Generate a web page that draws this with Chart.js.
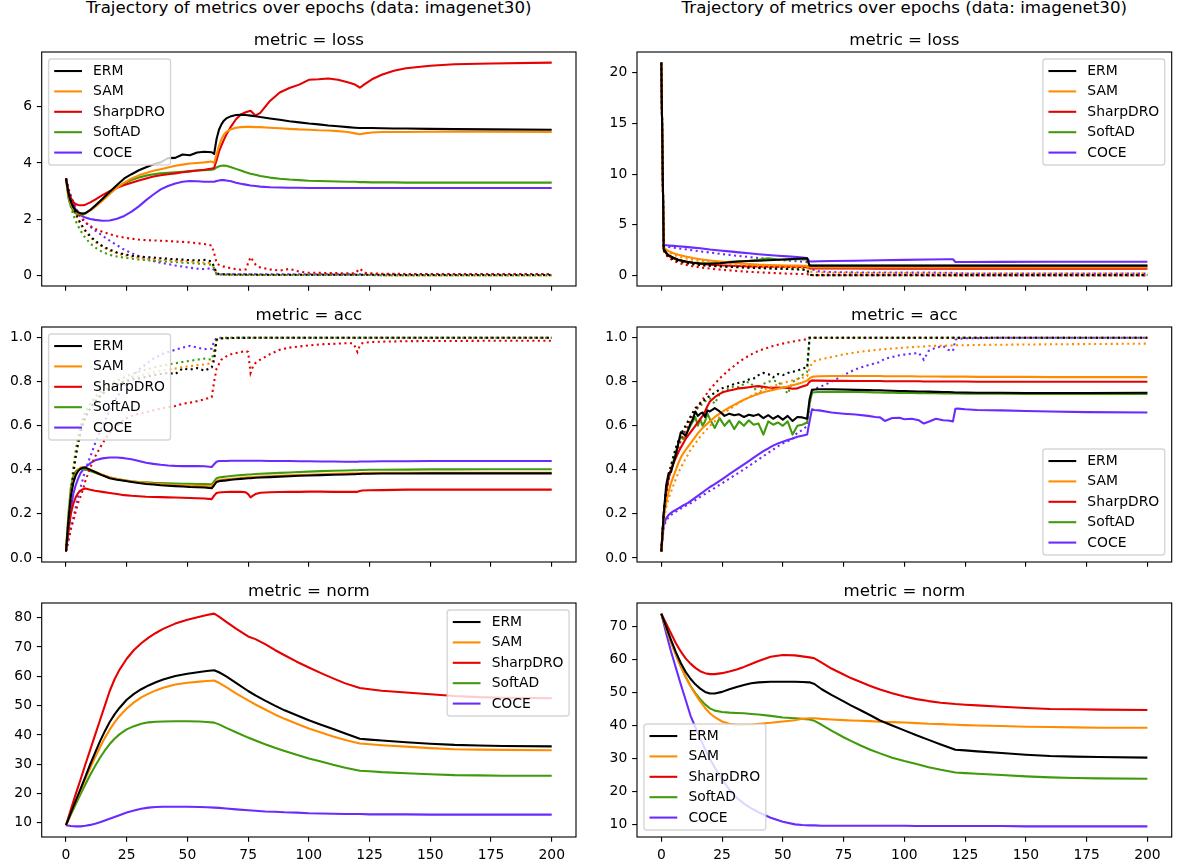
<!DOCTYPE html>
<html><head><meta charset="utf-8"><title>Trajectory of metrics over epochs</title>
<script src="https://cdn.jsdelivr.net/npm/chart.js@4.4.1/dist/chart.umd.min.js"></script>
<style>
html,body{margin:0;padding:0;background:#fff;}
#wrap{position:relative;width:1177px;height:865px;overflow:hidden;background:#fff;}
#wrap canvas{position:absolute;left:0;top:0;}
.sup{position:absolute;top:-2px;height:20px;line-height:20px;font-family:"DejaVu Sans",sans-serif;font-size:16.67px;color:#000;text-align:center;white-space:nowrap;}
</style></head><body>
<div id="wrap">
<div class="sup" style="left:41.7px;width:534.3px">Trajectory of metrics over epochs (data: imagenet30)</div>
<div class="sup" style="left:637px;width:534.7px">Trajectory of metrics over epochs (data: imagenet30)</div>
</div>
<script>
// ---------------- data ----------------
const METHODS = ['ERM','SAM','SharpDRO','SoftAD','COCE'];
const EPOCH_TICKS = [0,25,50,75,100,125,150,175,200];
const lossA_yticks = [0,2,4,6];
const lossB_yticks = [0,5,10,15,20];
const acc_yticks = [0,0.2,0.4,0.6,0.8,1.0];
const normA_yticks = [10,20,30,40,50,60,70,80];
const normB_yticks = [10,20,30,40,50,60,70];

// loss, left panel
const lossA_epochs = [0,1,2,3,4,5,6,7,8,10, 12,15,18,21,24,27,30,33,36,39, 42,45,48,51,54,57,60,61,62,63, 64,65,66,68,70,72,74,76,78,80, 84,88,92,96,100,104,108,112,116,119, 121,123,126,130,135,140,150,160,175,200];
const lossA_test_ERM = [3.45,2.92,2.62,2.43,2.31,2.25,2.21,2.2,2.22,2.33, 2.48,2.72,2.98,3.22,3.45,3.6,3.74,3.85,3.95,4.02, 4.17,4.18,4.3,4.27,4.37,4.4,4.38,4.32,4.85,5.18, 5.37,5.5,5.58,5.66,5.7,5.71,5.7,5.68,5.66,5.63, 5.58,5.53,5.48,5.44,5.4,5.37,5.33,5.3,5.27,5.25, 5.24,5.24,5.24,5.23,5.22,5.22,5.21,5.2,5.19,5.18];
const lossA_test_SAM = [3.45,2.86,2.56,2.39,2.28,2.22,2.2,2.2,2.22,2.31, 2.44,2.66,2.9,3.12,3.3,3.45,3.56,3.64,3.72,3.78, 3.84,3.9,3.94,3.98,4.0,4.02,4.05,4.0,4.3,4.6, 4.84,5.0,5.1,5.2,5.25,5.27,5.28,5.28,5.27,5.27, 5.25,5.23,5.21,5.19,5.18,5.16,5.15,5.13,5.1,5.05, 5.02,5.05,5.08,5.1,5.1,5.1,5.11,5.11,5.11,5.1];
const lossA_test_SharpDRO = [3.45,3.0,2.75,2.61,2.54,2.51,2.5,2.5,2.52,2.6, 2.7,2.86,3.0,3.12,3.22,3.3,3.38,3.45,3.52,3.56, 3.6,3.63,3.67,3.7,3.73,3.76,3.8,3.82,4.1,4.4, 4.62,4.82,5.0,5.3,5.55,5.72,5.8,5.85,5.68,5.78, 6.2,6.5,6.66,6.78,6.95,6.97,7.0,6.95,6.86,6.78, 6.67,6.8,6.97,7.13,7.27,7.36,7.45,7.5,7.53,7.56];
const lossA_test_SoftAD = [3.45,2.76,2.46,2.29,2.21,2.17,2.15,2.17,2.2,2.33, 2.48,2.72,2.95,3.13,3.28,3.39,3.48,3.55,3.6,3.63, 3.65,3.67,3.69,3.71,3.73,3.74,3.76,3.78,3.84,3.88, 3.9,3.91,3.9,3.85,3.79,3.73,3.67,3.62,3.58,3.54, 3.48,3.44,3.41,3.39,3.37,3.36,3.35,3.34,3.33,3.33, 3.32,3.32,3.31,3.31,3.31,3.3,3.3,3.3,3.3,3.3];
const lossA_test_COCE = [3.45,3.0,2.72,2.51,2.35,2.23,2.15,2.1,2.06,2.01, 1.98,1.95,1.96,2.02,2.12,2.27,2.46,2.68,2.88,3.06, 3.18,3.27,3.33,3.36,3.35,3.33,3.33,3.33,3.36,3.38, 3.39,3.39,3.38,3.35,3.3,3.26,3.23,3.2,3.18,3.16, 3.14,3.13,3.12,3.12,3.11,3.11,3.11,3.11,3.11,3.11, 3.11,3.11,3.11,3.11,3.11,3.11,3.11,3.11,3.11,3.11];
const lossA_train_ERM = [3.45,3.0,2.68,2.43,2.22,2.02,1.86,1.72,1.6,1.4, 1.24,1.05,0.92,0.82,0.76,0.71,0.68,0.66,0.64,0.62, 0.6,0.58,0.57,0.55,0.54,0.56,0.5,0.32,0.08,0.06, 0.05,0.05,0.05,0.04,0.04,0.04,0.04,0.04,0.04,0.03, 0.03,0.03,0.03,0.03,0.03,0.03,0.03,0.03,0.03,0.03, 0.03,0.03,0.03,0.03,0.03,0.02,0.02,0.02,0.02,0.02];
const lossA_train_SAM = [3.45,2.98,2.65,2.4,2.18,1.98,1.82,1.68,1.56,1.36, 1.2,1.02,0.88,0.79,0.72,0.67,0.63,0.6,0.58,0.56, 0.55,0.53,0.51,0.5,0.48,0.46,0.44,0.3,0.06,0.04, 0.03,0.03,0.03,0.03,0.02,0.02,0.02,0.02,0.02,0.02, 0.02,0.02,0.02,0.02,0.02,0.02,0.02,0.02,0.02,0.02, 0.02,0.02,0.02,0.01,0.01,0.01,0.01,0.01,0.01,0.01];
const lossA_train_SharpDRO = [3.45,3.05,2.78,2.55,2.36,2.2,2.08,1.97,1.88,1.76, 1.66,1.56,1.47,1.4,1.35,1.31,1.28,1.26,1.25,1.24, 1.23,1.21,1.2,1.18,1.15,1.12,1.07,0.8,0.45,0.38, 0.35,0.32,0.3,0.26,0.23,0.21,0.22,0.66,0.4,0.29, 0.22,0.18,0.24,0.14,0.1,0.1,0.09,0.09,0.08,0.08, 0.25,0.1,0.08,0.07,0.07,0.06,0.06,0.06,0.06,0.06];
const lossA_train_SoftAD = [3.45,2.85,2.45,2.16,1.94,1.76,1.6,1.46,1.34,1.14, 1.0,0.84,0.74,0.68,0.64,0.6,0.57,0.55,0.53,0.51, 0.5,0.48,0.46,0.45,0.43,0.41,0.39,0.26,0.05,0.04, 0.03,0.03,0.03,0.03,0.02,0.02,0.02,0.02,0.02,0.02, 0.02,0.02,0.02,0.02,0.02,0.02,0.02,0.02,0.02,0.02, 0.02,0.02,0.02,0.01,0.01,0.01,0.01,0.01,0.01,0.01];
const lossA_train_COCE = [3.45,3.1,2.85,2.62,2.42,2.25,2.12,2.0,1.9,1.74, 1.6,1.42,1.24,1.08,0.92,0.8,0.69,0.6,0.52,0.46, 0.41,0.36,0.32,0.28,0.25,0.23,0.27,0.2,0.05,0.05, 0.05,0.05,0.05,0.05,0.05,0.05,0.05,0.05,0.05,0.05, 0.05,0.05,0.05,0.05,0.05,0.05,0.05,0.05,0.05,0.05, 0.05,0.05,0.05,0.05,0.05,0.05,0.06,0.06,0.06,0.06];

// loss, right panel
const lossB_epochs = [0,1,2,3,5,7,10,13,16,20, 24,28,32,36,40,44,48,52,56,58, 60,61,62,65,70,80,90,100,110,118, 120,121,125,140,160,180,200];
const lossB_test_ERM = [21.0,2.6,2.25,2.0,1.75,1.55,1.38,1.25,1.18,1.15, 1.2,1.3,1.38,1.42,1.45,1.5,1.55,1.6,1.65,1.68, 1.7,0.97,0.97,0.97,0.97,0.97,0.97,0.97,0.97,0.97, 0.97,0.97,0.97,0.97,0.97,0.97,0.97];
const lossB_test_SAM = [21.0,2.8,2.55,2.4,2.2,2.05,1.88,1.72,1.6,1.48, 1.38,1.28,1.2,1.13,1.07,1.04,1.01,0.99,0.97,0.96, 0.95,0.82,0.8,0.8,0.8,0.8,0.8,0.8,0.8,0.8, 0.8,0.8,0.8,0.8,0.8,0.8,0.8];
const lossB_test_SharpDRO = [21.0,2.6,2.2,1.95,1.7,1.52,1.38,1.25,1.15,1.06, 1.0,0.96,0.93,0.9,0.88,0.87,0.86,0.85,0.84,0.83, 0.82,0.69,0.68,0.68,0.68,0.68,0.67,0.67,0.67,0.67, 0.67,0.67,0.67,0.67,0.67,0.67,0.67];
const lossB_test_SoftAD = [21.0,2.55,2.2,1.95,1.7,1.5,1.36,1.28,1.22,1.2, 1.25,1.35,1.4,1.45,1.55,1.7,1.58,1.55,1.62,1.58, 1.6,0.95,0.95,0.95,0.95,0.95,0.95,0.95,0.95,0.95, 0.95,0.95,0.95,0.95,0.95,0.95,0.95];
const lossB_test_COCE = [21.0,3.0,2.98,2.96,2.92,2.88,2.82,2.75,2.68,2.56, 2.47,2.38,2.28,2.19,2.1,2.02,1.94,1.88,1.82,1.78, 1.72,1.4,1.38,1.4,1.42,1.45,1.5,1.54,1.57,1.6, 1.6,1.33,1.33,1.34,1.35,1.35,1.35];
const lossB_train_ERM = [21.0,2.5,2.1,1.85,1.6,1.42,1.25,1.12,1.04,0.96, 0.9,0.85,0.8,0.76,0.73,0.7,0.67,0.64,0.6,0.58, 0.56,0.06,0.04,0.03,0.03,0.03,0.03,0.03,0.03,0.03, 0.03,0.03,0.03,0.03,0.03,0.03,0.03];
const lossB_train_SAM = [21.0,2.75,2.5,2.3,2.05,1.88,1.7,1.55,1.44,1.32, 1.22,1.13,1.06,1.0,0.95,0.9,0.86,0.82,0.78,0.76, 0.74,0.42,0.35,0.3,0.27,0.25,0.24,0.23,0.22,0.22, 0.22,0.2,0.2,0.2,0.19,0.19,0.19];
const lossB_train_SharpDRO = [21.0,2.5,2.05,1.75,1.45,1.25,1.05,0.9,0.8,0.68, 0.58,0.5,0.43,0.36,0.31,0.26,0.22,0.18,0.15,0.14, 0.13,0.03,0.02,0.02,0.02,0.02,0.02,0.02,0.01,0.01, 0.01,0.01,0.01,0.01,0.01,0.01,0.01];
const lossB_train_SoftAD = [21.0,2.45,2.05,1.8,1.55,1.38,1.22,1.1,1.02,0.95, 0.9,0.86,0.82,0.78,0.75,0.72,0.69,0.66,0.63,0.6, 0.58,0.06,0.04,0.03,0.03,0.03,0.03,0.03,0.03,0.03, 0.03,0.03,0.03,0.03,0.03,0.03,0.03];
const lossB_train_COCE = [21.0,2.95,2.88,2.82,2.75,2.68,2.58,2.48,2.38,2.26, 2.14,2.03,1.92,1.82,1.72,1.63,1.55,1.47,1.4,1.36, 1.32,1.05,0.6,0.4,0.33,0.3,0.29,0.28,0.28,0.27, 0.27,0.22,0.2,0.2,0.2,0.2,0.2];

// acc, left panel
const accA_epochs = [0,1,2,3,4,5,6,7,8,10, 12,15,18,21,24,27,30,33,36,39, 42,45,48,51,54,57,60,61,62,63, 64,66,68,70,72,74,75,76,77,78, 80,84,88,92,96,100,105,110,115,118, 119,120,121,122,125,130,140,150,160,175, 200];
const accA_test_ERM = [0.03,0.17,0.28,0.34,0.375,0.395,0.405,0.41,0.41,0.4, 0.39,0.375,0.362,0.355,0.35,0.345,0.34,0.336,0.333,0.33, 0.328,0.326,0.324,0.322,0.321,0.32,0.316,0.33,0.345,0.348, 0.35,0.352,0.355,0.357,0.359,0.361,0.362,0.362,0.363,0.364, 0.365,0.367,0.369,0.371,0.373,0.374,0.376,0.378,0.379,0.38, 0.38,0.381,0.381,0.382,0.382,0.383,0.383,0.384,0.384,0.384, 0.384];
const accA_test_SAM = [0.03,0.18,0.29,0.35,0.38,0.4,0.41,0.412,0.41,0.402, 0.392,0.378,0.366,0.358,0.352,0.347,0.343,0.34,0.337,0.335, 0.333,0.331,0.33,0.328,0.327,0.326,0.325,0.337,0.35,0.353, 0.355,0.357,0.359,0.361,0.363,0.365,0.366,0.366,0.367,0.368, 0.369,0.371,0.373,0.375,0.377,0.378,0.38,0.382,0.383,0.384, 0.384,0.384,0.385,0.385,0.386,0.386,0.387,0.387,0.387,0.387, 0.387];
const accA_test_SharpDRO = [0.03,0.12,0.2,0.245,0.275,0.295,0.305,0.312,0.315,0.31, 0.305,0.3,0.295,0.29,0.285,0.282,0.28,0.278,0.277,0.276, 0.275,0.274,0.273,0.272,0.271,0.27,0.267,0.283,0.295,0.297, 0.298,0.299,0.3,0.3,0.3,0.298,0.29,0.275,0.283,0.29, 0.296,0.298,0.299,0.3,0.3,0.301,0.301,0.3,0.3,0.3, 0.3,0.3,0.304,0.306,0.307,0.308,0.31,0.31,0.31,0.31, 0.31];
const accA_test_SoftAD = [0.03,0.2,0.32,0.37,0.392,0.402,0.405,0.405,0.402,0.395, 0.387,0.375,0.365,0.358,0.352,0.348,0.345,0.343,0.341,0.34, 0.339,0.338,0.337,0.337,0.336,0.335,0.334,0.348,0.362,0.365, 0.367,0.37,0.372,0.374,0.376,0.378,0.379,0.379,0.38,0.381, 0.382,0.384,0.386,0.388,0.39,0.392,0.394,0.396,0.397,0.398, 0.398,0.398,0.399,0.399,0.4,0.4,0.401,0.402,0.402,0.403, 0.403];
const accA_test_COCE = [0.03,0.12,0.22,0.29,0.33,0.36,0.385,0.4,0.412,0.43, 0.443,0.452,0.456,0.456,0.453,0.448,0.44,0.432,0.427,0.423, 0.42,0.418,0.417,0.417,0.417,0.416,0.413,0.425,0.437,0.44, 0.44,0.44,0.441,0.441,0.441,0.441,0.441,0.441,0.441,0.441, 0.441,0.44,0.44,0.44,0.439,0.439,0.438,0.438,0.437,0.437, 0.437,0.437,0.438,0.438,0.438,0.439,0.439,0.44,0.44,0.44, 0.44];
const accA_train_ERM = [0.03,0.15,0.28,0.38,0.46,0.52,0.57,0.61,0.64,0.68, 0.71,0.745,0.77,0.785,0.8,0.81,0.815,0.822,0.83,0.835, 0.84,0.835,0.86,0.855,0.862,0.85,0.865,0.9,0.99,0.995, 0.997,0.998,0.998,0.999,0.999,0.999,1.0,1.0,1.0,1.0, 1.0,1.0,1.0,1.0,1.0,1.0,1.0,1.0,1.0,1.0, 1.0,1.0,1.0,1.0,1.0,1.0,1.0,1.0,1.0,1.0, 1.0];
const accA_train_SAM = [0.03,0.15,0.28,0.38,0.46,0.52,0.57,0.61,0.64,0.68, 0.715,0.75,0.775,0.79,0.805,0.815,0.825,0.835,0.843,0.85, 0.855,0.86,0.866,0.87,0.875,0.878,0.885,0.91,0.99,0.995, 0.997,0.998,0.998,0.999,0.999,0.999,1.0,1.0,1.0,1.0, 1.0,1.0,1.0,1.0,1.0,1.0,1.0,1.0,1.0,1.0, 1.0,1.0,1.0,1.0,1.0,1.0,1.0,1.0,1.0,1.0, 1.0];
const accA_train_SharpDRO = [0.03,0.08,0.13,0.17,0.21,0.25,0.28,0.31,0.35,0.41, 0.46,0.52,0.57,0.6,0.63,0.645,0.655,0.662,0.67,0.678, 0.685,0.69,0.7,0.705,0.712,0.72,0.73,0.8,0.86,0.88, 0.9,0.915,0.925,0.93,0.935,0.94,0.935,0.84,0.87,0.885, 0.9,0.925,0.945,0.955,0.96,0.965,0.97,0.972,0.975,0.975, 0.96,0.935,0.965,0.975,0.98,0.982,0.984,0.985,0.985,0.986, 0.986];
const accA_train_SoftAD = [0.03,0.17,0.3,0.41,0.49,0.55,0.6,0.635,0.665,0.7, 0.73,0.765,0.79,0.805,0.82,0.835,0.845,0.855,0.865,0.872, 0.878,0.884,0.89,0.895,0.9,0.905,0.9,0.94,0.995,0.997, 0.998,0.999,0.999,1.0,1.0,1.0,1.0,1.0,1.0,1.0, 1.0,1.0,1.0,1.0,1.0,1.0,1.0,1.0,1.0,1.0, 1.0,1.0,1.0,1.0,1.0,1.0,1.0,1.0,1.0,1.0, 1.0];
const accA_train_COCE = [0.03,0.08,0.13,0.18,0.23,0.28,0.32,0.36,0.4,0.46, 0.52,0.6,0.67,0.73,0.78,0.82,0.855,0.88,0.905,0.922, 0.935,0.945,0.955,0.963,0.955,0.948,0.95,0.985,0.998,1.0, 1.0,1.0,1.0,1.0,1.0,1.0,1.0,1.0,1.0,1.0, 1.0,1.0,1.0,1.0,1.0,1.0,1.0,1.0,1.0,1.0, 1.0,1.0,1.0,1.0,1.0,1.0,1.0,1.0,1.0,1.0, 1.0];

// acc, right panel
const accB_epochs = [0,1,2,3,4,5,6,7,8,9, 10,11,12,13,14,15,16,17,18,19, 20,22,24,26,28,30,32,34,36,38, 40,42,44,46,48,50,52,54,56,58, 60,61,62,63,65,70,75,80,85,88, 90,92,95,98,100,103,106,108,110,113, 116,118,120,121,122,125,130,140,150,160, 175,200];
const accB_test_ERM = [0.03,0.2,0.33,0.385,0.39,0.43,0.47,0.52,0.57,0.565, 0.555,0.58,0.61,0.63,0.665,0.645,0.655,0.66,0.64,0.67, 0.665,0.68,0.665,0.645,0.655,0.648,0.652,0.64,0.65,0.645, 0.652,0.635,0.648,0.632,0.645,0.628,0.645,0.622,0.64,0.638, 0.632,0.72,0.763,0.765,0.766,0.766,0.765,0.763,0.762,0.761, 0.761,0.76,0.759,0.758,0.758,0.757,0.756,0.756,0.755,0.754, 0.753,0.753,0.752,0.751,0.751,0.751,0.75,0.75,0.749,0.749, 0.749,0.75];
const accB_test_SAM = [0.03,0.18,0.25,0.3,0.34,0.37,0.4,0.43,0.455,0.475, 0.49,0.505,0.52,0.535,0.55,0.565,0.578,0.59,0.6,0.61, 0.62,0.64,0.655,0.67,0.683,0.695,0.707,0.718,0.728,0.737, 0.745,0.752,0.758,0.763,0.768,0.773,0.778,0.784,0.79,0.797, 0.805,0.815,0.822,0.824,0.825,0.826,0.826,0.826,0.826,0.826, 0.826,0.825,0.825,0.825,0.825,0.825,0.824,0.824,0.824,0.824, 0.823,0.823,0.823,0.823,0.823,0.823,0.822,0.822,0.822,0.821, 0.821,0.821];
const accB_test_SharpDRO = [0.03,0.2,0.3,0.36,0.4,0.43,0.455,0.48,0.5,0.52, 0.54,0.555,0.57,0.585,0.6,0.615,0.63,0.645,0.665,0.69, 0.71,0.73,0.745,0.755,0.76,0.765,0.77,0.772,0.775,0.778, 0.78,0.777,0.774,0.772,0.774,0.773,0.772,0.768,0.77,0.778, 0.785,0.8,0.806,0.805,0.805,0.804,0.804,0.803,0.803,0.803, 0.803,0.802,0.802,0.802,0.802,0.802,0.802,0.801,0.801,0.801, 0.801,0.801,0.801,0.801,0.801,0.801,0.8,0.8,0.8,0.8, 0.8,0.8];
const accB_test_SoftAD = [0.03,0.2,0.3,0.37,0.4,0.44,0.48,0.52,0.55,0.54, 0.55,0.58,0.6,0.62,0.64,0.6,0.63,0.6,0.62,0.655, 0.63,0.59,0.635,0.6,0.625,0.585,0.62,0.6,0.625,0.605, 0.61,0.56,0.62,0.605,0.615,0.6,0.62,0.56,0.6,0.605, 0.615,0.7,0.75,0.752,0.753,0.754,0.754,0.753,0.752,0.751, 0.751,0.75,0.75,0.749,0.749,0.749,0.748,0.748,0.748,0.748, 0.747,0.747,0.747,0.747,0.747,0.746,0.746,0.746,0.745,0.745, 0.745,0.745];
const accB_test_COCE = [0.03,0.15,0.18,0.195,0.205,0.212,0.218,0.225,0.232,0.238, 0.244,0.25,0.258,0.266,0.274,0.282,0.29,0.298,0.306,0.314, 0.322,0.335,0.35,0.365,0.38,0.395,0.41,0.425,0.44,0.455, 0.47,0.485,0.497,0.51,0.52,0.528,0.535,0.542,0.55,0.555, 0.56,0.62,0.675,0.672,0.67,0.66,0.655,0.651,0.645,0.64, 0.638,0.622,0.635,0.636,0.63,0.632,0.625,0.61,0.618,0.632, 0.625,0.624,0.62,0.677,0.678,0.675,0.672,0.67,0.667,0.665, 0.662,0.66];
const accB_train_ERM = [0.03,0.2,0.3,0.37,0.42,0.46,0.5,0.53,0.56,0.58, 0.6,0.62,0.64,0.66,0.68,0.69,0.7,0.71,0.72,0.73, 0.735,0.75,0.765,0.775,0.78,0.79,0.795,0.8,0.81,0.815, 0.83,0.84,0.835,0.82,0.835,0.83,0.84,0.845,0.85,0.86, 0.865,1.0,1.0,1.0,1.0,1.0,1.0,1.0,1.0,1.0, 1.0,1.0,1.0,1.0,1.0,1.0,1.0,1.0,1.0,1.0, 1.0,1.0,1.0,1.0,1.0,1.0,1.0,1.0,1.0,1.0, 1.0,1.0];
const accB_train_SAM = [0.03,0.17,0.23,0.27,0.3,0.33,0.36,0.385,0.41,0.43, 0.45,0.47,0.49,0.505,0.52,0.535,0.55,0.563,0.575,0.587, 0.6,0.62,0.64,0.658,0.675,0.69,0.705,0.718,0.73,0.742, 0.753,0.763,0.772,0.78,0.787,0.793,0.8,0.806,0.812,0.818, 0.825,0.86,0.885,0.893,0.9,0.912,0.924,0.933,0.94,0.944, 0.946,0.948,0.951,0.953,0.955,0.957,0.959,0.96,0.962,0.963, 0.964,0.964,0.965,0.965,0.966,0.966,0.967,0.968,0.969,0.97, 0.971,0.973];
const accB_train_SharpDRO = [0.03,0.2,0.31,0.37,0.41,0.44,0.47,0.5,0.53,0.555, 0.58,0.6,0.625,0.645,0.665,0.685,0.705,0.72,0.735,0.75, 0.765,0.79,0.815,0.835,0.855,0.872,0.89,0.905,0.918,0.93, 0.94,0.948,0.955,0.962,0.968,0.973,0.978,0.982,0.986,0.99, 0.993,1.0,1.0,1.0,1.0,1.0,1.0,1.0,1.0,1.0, 1.0,1.0,1.0,1.0,1.0,1.0,1.0,1.0,1.0,1.0, 1.0,1.0,1.0,1.0,1.0,1.0,1.0,1.0,1.0,1.0, 1.0,1.0];
const accB_train_SoftAD = [0.03,0.2,0.3,0.37,0.42,0.46,0.5,0.53,0.56,0.58, 0.6,0.62,0.64,0.66,0.67,0.68,0.69,0.7,0.71,0.72, 0.725,0.7,0.745,0.76,0.77,0.78,0.775,0.79,0.8,0.78, 0.735,0.79,0.8,0.805,0.8,0.78,0.745,0.8,0.81,0.83, 0.845,1.0,1.0,1.0,1.0,1.0,1.0,1.0,1.0,1.0, 1.0,1.0,1.0,1.0,1.0,1.0,1.0,1.0,1.0,1.0, 1.0,1.0,1.0,1.0,1.0,1.0,1.0,1.0,1.0,1.0, 1.0,1.0];
const accB_train_COCE = [0.03,0.14,0.17,0.185,0.195,0.203,0.21,0.217,0.224,0.23, 0.236,0.242,0.248,0.255,0.262,0.27,0.277,0.284,0.291,0.298, 0.305,0.318,0.332,0.346,0.36,0.374,0.388,0.402,0.417,0.432, 0.447,0.462,0.477,0.492,0.507,0.52,0.53,0.54,0.57,0.58, 0.6,0.7,0.76,0.768,0.775,0.8,0.83,0.857,0.875,0.884, 0.89,0.905,0.912,0.92,0.923,0.928,0.93,0.9,0.94,0.955, 0.962,0.945,0.94,0.99,0.995,0.997,0.998,1.0,1.0,1.0, 1.0,1.0];

// norm, both panels
const norm_epochs = [0,2,4,6,8,10,12,14,16,18, 20,22,25,28,31,34,37,40,45,50, 55,58,61,63,66,70,75,78,82,86, 90,95,100,105,110,115,121,125,130,140, 150,160,170,180,200];
const normA_ERM = [9.2,13.4,17.5,21.6,25.8,30,34,37.8,41.3,44.4, 47,49.2,52,54,55.6,56.9,58,58.9,60.1,60.9, 61.5,61.8,62.1,61.4,60,57.8,55,53.5,51.7,50, 48.4,46.7,45,43.5,42,40.5,38.7,38.4,38.1,37.5, 37,36.6,36.4,36.2,36.1];
const normA_SAM = [9.2,13.2,17.2,21.1,25,28.8,32.4,35.8,39,41.8, 44.3,46.4,49,51.1,52.8,54.1,55.2,56.1,57.2,57.8, 58.2,58.4,58.6,57.8,56.3,54.2,51.8,50.4,48.7,47, 45.5,43.8,42.2,40.8,39.5,38.3,37.1,36.8,36.5,36, 35.5,35.1,35,34.9,34.8];
const normA_SharpDRO = [9.2,14.5,19.8,24.8,30,35,40,45,50,55, 59,62.2,66,69,71.3,73.2,74.8,76.2,78,79.3, 80.3,80.9,81.4,80.4,78.6,76.3,73.6,72.7,71,69, 67.2,65,63,61.1,59.3,57.6,56,55.6,55.1,54.5, 53.9,53.3,52.9,52.7,52.5];
const normA_SoftAD = [9.2,12.8,16.3,19.8,23.2,26.4,29.4,32.2,34.7,36.9, 38.7,40.2,41.9,43,43.8,44.3,44.5,44.6,44.7,44.7, 44.6,44.4,44.2,43.6,42.4,40.9,39.1,38.1,36.8,35.6, 34.5,33.2,32,30.9,29.8,28.8,27.8,27.6,27.3,26.9, 26.6,26.3,26.2,26.1,26.1];
const normA_COCE = [9.2,8.9,8.8,8.8,9.0,9.3,9.7,10.2,10.8,11.4, 12,12.6,13.5,14.2,14.8,15.2,15.4,15.5,15.5,15.5, 15.4,15.3,15.2,15.1,14.9,14.6,14.3,14.1,13.9,13.8, 13.6,13.5,13.3,13.2,13.1,13,13,12.9,12.9,12.9, 12.8,12.8,12.8,12.8,12.8];
const normB_ERM = [74,70,66,62.3,59,56.3,54.2,52.5,51.2,50.2, 49.7,49.7,50.2,51,51.7,52.3,52.8,53.1,53.3,53.3, 53.3,53.2,53.1,52.6,51,49.3,47.3,46.1,44.6,43.1, 41.5,40,38.5,37,35.6,34.2,32.6,32.4,32.1,31.6, 31.1,30.7,30.5,30.4,30.2];
const normB_SAM = [74,69.5,65.3,61.5,58,54.8,52,49.5,47.3,45.3, 43.7,42.5,41.2,40.5,40.2,40.2,40.3,40.5,40.8,41.2, 41.6,42,42.2,42.2,42,41.8,41.6,41.5,41.4,41.3, 41.1,41,40.9,40.7,40.5,40.4,40.2,40.1,40,39.8, 39.6,39.5,39.4,39.3,39.3];
const normB_SharpDRO = [74,71,68,65,62.5,60.4,58.8,57.5,56.5,55.9, 55.6,55.6,55.9,56.4,57,57.8,58.7,59.6,60.9,61.4, 61.3,61,60.7,60.4,59.1,57.3,55.5,54.4,53.2,52, 50.9,49.8,48.8,48,47.4,46.9,46.5,46.3,46.1,45.7, 45.3,45,44.9,44.8,44.7];
const normB_SoftAD = [74,69.5,65.3,61.5,58,54.8,52,49.8,48,46.4, 45.2,44.5,44.1,43.9,43.8,43.7,43.5,43.3,42.9,42.4, 42.2,42,41.8,41.4,40.2,38.4,36.4,35.3,33.9,32.6, 31.5,30.2,29.2,28.3,27.3,26.5,25.7,25.5,25.3,24.9, 24.5,24.2,24,23.9,23.8];
const normB_COCE = [74,68,62.5,57.5,52.5,47.8,43,39.5,36,32.8, 29.8,27.2,23.5,20.5,18,16.2,14.8,13.6,11.9,10.7, 9.9,9.7,9.6,9.6,9.5,9.5,9.5,9.5,9.5,9.5, 9.5,9.5,9.5,9.4,9.4,9.4,9.4,9.4,9.4,9.4, 9.3,9.3,9.3,9.3,9.3];

// ---------------- styling / layout ----------------
const COLORS = {ERM:'#000000', SAM:'#ff8c00', SharpDRO:'#e60000', SoftAD:'#3f9b0b', COCE:'#6a2bff'};
const PT = 100/72;
const FS = 10*PT;          // tick / legend font size
const TFS = 12*PT;         // title font size
const LW = 1.5*PT;         // line width
const CW = 1177, CH = 865;
const COLS = [[41.7,576],[637,1171.7]];
const ROWS = [[52,286],[327,562],[603,837]];
const YAXW = 40, XAXH = 26, TITLE_PB = 1.8, TITLE_H = TFS*1.2 + TITLE_PB;

Chart.defaults.font.family = '"DejaVu Sans", sans-serif';
Chart.defaults.font.size = FS;
Chart.defaults.color = '#000';

const framePlugin = {
  id:'frame',
  afterDatasetsDraw(chart){
    const {ctx, chartArea:a} = chart;
    ctx.save(); ctx.strokeStyle='#000'; ctx.lineWidth=0.8*PT;
    ctx.strokeRect(a.left, a.top, a.right-a.left, a.bottom-a.top);
    ctx.restore();
  }
};

function rr(ctx,x,y,w,h,r){
  ctx.beginPath();
  ctx.moveTo(x+r,y); ctx.lineTo(x+w-r,y); ctx.arcTo(x+w,y,x+w,y+r,r);
  ctx.lineTo(x+w,y+h-r); ctx.arcTo(x+w,y+h,x+w-r,y+h,r);
  ctx.lineTo(x+r,y+h); ctx.arcTo(x,y+h,x,y+h-r,r);
  ctx.lineTo(x,y+r); ctx.arcTo(x,y,x+r,y,r); ctx.closePath();
}

const mplLegend = {
  id:'mplLegend',
  afterDraw(chart, args, o){
    if(!o || !o.loc) return;
    const ctx = chart.ctx, a = chart.chartArea;
    ctx.save();
    ctx.font = FS + 'px "DejaVu Sans", sans-serif';
    const bp = 0.4*FS, hl = 2.0*FS, htp = 0.8*FS, ls = 0.5*FS, rh = 0.968*FS, pad = 0.5*FS;
    const tw = Math.max(...METHODS.map(s=>ctx.measureText(s).width));
    const w = 2*bp + hl + htp + tw;
    const h = 2*bp + METHODS.length*rh + (METHODS.length-1)*ls;
    const x = o.loc.endsWith('left') ? a.left + pad : a.right - pad - w;
    const y = o.loc.startsWith('upper') ? a.top + pad : a.bottom - pad - h;
    rr(ctx,x,y,w,h,0.2*FS);
    ctx.fillStyle='rgba(255,255,255,0.8)'; ctx.fill();
    ctx.lineWidth=PT; ctx.strokeStyle='rgba(204,204,204,0.8)'; ctx.stroke();
    METHODS.forEach((m,i)=>{
      const top = y + bp + i*(rh+ls);
      const hy = top + 0.47*FS;
      ctx.beginPath(); ctx.moveTo(x+bp, hy); ctx.lineTo(x+bp+hl, hy);
      ctx.strokeStyle = COLORS[m]; ctx.lineWidth = LW; ctx.lineCap='butt'; ctx.stroke();
      ctx.fillStyle='#000'; ctx.textAlign='left'; ctx.textBaseline='alphabetic';
      ctx.fillText(m, x+bp+hl+htp, top + 0.76*FS);
    });
    ctx.restore();
  }
};

const PANELS = [
  {col:0,row:0,title:'metric = loss',ep:lossA_epochs,
   test:[lossA_test_ERM,lossA_test_SAM,lossA_test_SharpDRO,lossA_test_SoftAD,lossA_test_COCE],
   train:[lossA_train_ERM,lossA_train_SAM,lossA_train_SharpDRO,lossA_train_SoftAD,lossA_train_COCE],
   yt:lossA_yticks,dec:0,loc:'upper left'},
  {col:1,row:0,title:'metric = loss',ep:lossB_epochs,
   test:[lossB_test_ERM,lossB_test_SAM,lossB_test_SharpDRO,lossB_test_SoftAD,lossB_test_COCE],
   train:[lossB_train_ERM,lossB_train_SAM,lossB_train_SharpDRO,lossB_train_SoftAD,lossB_train_COCE],
   yt:lossB_yticks,dec:0,loc:'upper right'},
  {col:0,row:1,title:'metric = acc',ep:accA_epochs,
   test:[accA_test_ERM,accA_test_SAM,accA_test_SharpDRO,accA_test_SoftAD,accA_test_COCE],
   train:[accA_train_ERM,accA_train_SAM,accA_train_SharpDRO,accA_train_SoftAD,accA_train_COCE],
   yt:acc_yticks,dec:1,loc:'upper left'},
  {col:1,row:1,title:'metric = acc',ep:accB_epochs,
   test:[accB_test_ERM,accB_test_SAM,accB_test_SharpDRO,accB_test_SoftAD,accB_test_COCE],
   train:[accB_train_ERM,accB_train_SAM,accB_train_SharpDRO,accB_train_SoftAD,accB_train_COCE],
   yt:acc_yticks,dec:1,loc:'lower right'},
  {col:0,row:2,title:'metric = norm',ep:norm_epochs,
   test:[normA_ERM,normA_SAM,normA_SharpDRO,normA_SoftAD,normA_COCE],train:null,
   yt:normA_yticks,dec:0,loc:'upper right'},
  {col:1,row:2,title:'metric = norm',ep:norm_epochs,
   test:[normB_ERM,normB_SAM,normB_SharpDRO,normB_SoftAD,normB_COCE],train:null,
   yt:normB_yticks,dec:0,loc:'lower left'}
];

function pts(ep, vals){
  const n = Math.min(ep.length, vals.length);
  const out = [];
  for(let k=0;k<n;k++) out.push({x:ep[k], y:vals[k]});
  return out;
}

const wrap = document.getElementById('wrap');
PANELS.forEach(p=>{
  const [axL, axR] = COLS[p.col];
  const [axT, axB] = ROWS[p.row];
  const cv = document.createElement('canvas');
  cv.width = CW; cv.height = CH;
  cv.style.width = CW+'px'; cv.style.height = CH+'px';
  wrap.appendChild(cv);

  const datasets = [];
  const all = [];
  METHODS.forEach((m,i)=>{
    all.push(...p.test[i]);
    datasets.push({label:m, data:pts(p.ep,p.test[i]), borderColor:COLORS[m], backgroundColor:COLORS[m],
      borderWidth:LW, pointRadius:0, tension:0, fill:false, borderJoinStyle:'round', borderCapStyle:'butt'});
    if(p.train){
      all.push(...p.train[i]);
      datasets.push({label:m+' train', data:pts(p.ep,p.train[i]), borderColor:COLORS[m], backgroundColor:COLORS[m],
        borderWidth:LW, pointRadius:0, tension:0, fill:false, borderDash:[1*LW,1.65*LW], borderCapStyle:'butt'});
    }
  });
  const lo = Math.min(...all), hi = Math.max(...all), mg = (hi-lo)*0.05;
  const allX = p.ep, xlo = Math.min(...allX), xhi = Math.max(...allX), xmg = (xhi-xlo)*0.05;

  new Chart(cv, {
    type:'line',
    data:{datasets},
    options:{
      responsive:false, animation:false, devicePixelRatio:1, parsing:false,
      layout:{padding:{left:axL-YAXW, right:CW-axR, top:axT-TITLE_H, bottom:CH-axB-XAXH}},
      plugins:{
        legend:{display:false}, tooltip:{enabled:false},
        title:{display:true, text:p.title, fullSize:false, color:'#000',
               font:{size:TFS, weight:'normal', family:'"DejaVu Sans", sans-serif', lineHeight:1.2},
               padding:{top:0,bottom:TITLE_PB}},
        mplLegend:{loc:p.loc}
      },
      scales:{
        x:{type:'linear', min:xlo-xmg, max:xhi+xmg,
           afterBuildTicks:(ax)=>{ ax.ticks = EPOCH_TICKS.map(v=>({value:v})); },
           afterFit:(ax)=>{ ax.height = XAXH; },
           ticks:{display:p.row===2, autoSkip:false, maxRotation:0, minRotation:0, padding:7, color:'#000',
                  font:{size:FS, lineHeight:1}, callback:(v)=>String(v)},
           grid:{display:true, drawOnChartArea:false, drawTicks:true, tickLength:3.5*PT, color:'#000', lineWidth:0.8*PT},
           border:{display:false}},
        y:{type:'linear', min:lo-mg, max:hi+mg,
           afterBuildTicks:(ax)=>{ ax.ticks = p.yt.map(v=>({value:v})); },
           afterFit:(ax)=>{ ax.width = YAXW; },
           ticks:{autoSkip:false, padding:3.5*PT, color:'#000', font:{size:FS, lineHeight:1},
                  callback:(v)=>Number(v).toFixed(p.dec)},
           grid:{display:true, drawOnChartArea:false, drawTicks:true, tickLength:3.5*PT, color:'#000', lineWidth:0.8*PT},
           border:{display:false}}
      }
    },
    plugins:[framePlugin, mplLegend]
  });
});
</script>
</body></html>
